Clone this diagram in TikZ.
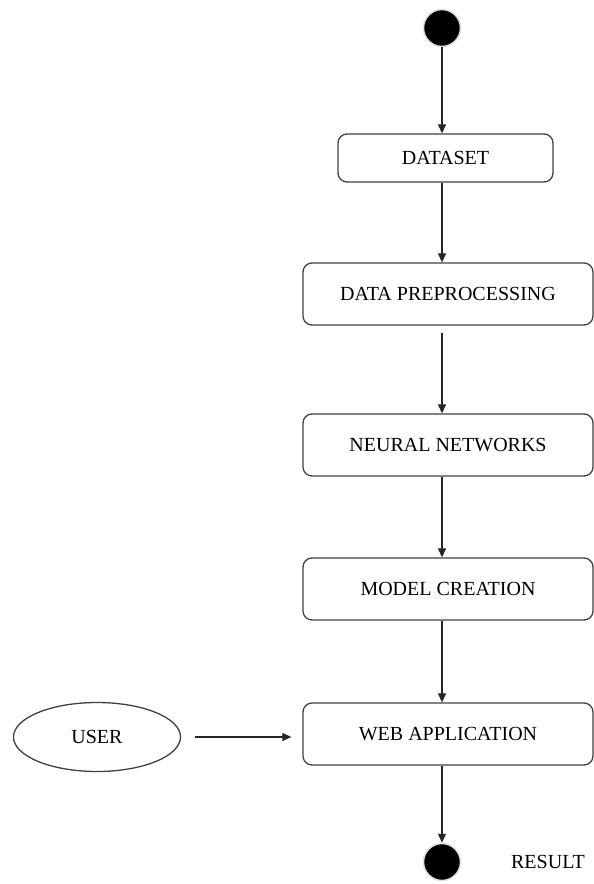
\documentclass[tikz,border=0pt]{standalone}
\usepackage{fontspec}
\setmainfont{Liberation Serif}
\usetikzlibrary{shapes.geometric,arrows.meta}
\begin{document}
\begin{tikzpicture}[x=1pt,y=-1pt,
    label font/.style={font=\fontsize{20}{23}\selectfont},
    stage/.style={draw=black!75,line width=1.3pt,rounded corners=9pt,minimum width=290pt,minimum height=62pt,label font},
    pin/.style={circle,fill=black,draw=black!12,line width=1.5pt,minimum size=37pt,inner sep=0pt},
    flow/.style={draw=black!85,line width=1.2pt,-{Triangle[length=9pt,width=8pt]}}]
    \useasboundingbox (0,0) rectangle (594,884);

    \node[pin] (start) at (442,28) {};
    \node[stage,minimum width=215pt,minimum height=48pt] (data) at (445.5,158) {DATASET};
    \foreach \name/\txt/\y in {prep/DATA PREPROCESSING/294, nn/NEURAL NETWORKS/445, model/MODEL CREATION/589, web/WEB APPLICATION/734}
      \node[stage] (\name) at (448,\y) {\txt};
    \node[pin] (stop) at (442,862) {};
    \node[label font] (result) at (548,862) {RESULT};
    \node[ellipse,draw=black!75,line width=1.3pt,minimum width=167pt,minimum height=69pt,label font] (user) at (97,737) {USER};

    \draw[flow] (start) -- (start |- data.north);
    \draw[flow] (start |- data.south) -- (start |- prep.north);
    \draw[flow,shorten <=7pt] (start |- prep.south) -- (start |- nn.north);
    \draw[flow] (start |- nn.south) -- (start |- model.north);
    \draw[flow] (start |- model.south) -- (start |- web.north);
    \draw[flow] (start |- web.south) -- (stop);
    \draw[flow,shorten <=14pt,shorten >=11pt] (user) -- (user -| web.west);
  \end{tikzpicture}
\end{document}
